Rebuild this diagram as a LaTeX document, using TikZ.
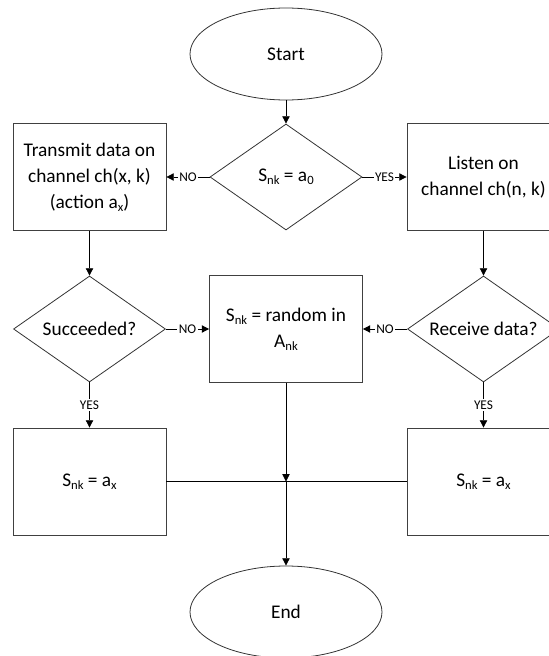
\documentclass[tikz,border=0pt]{standalone}
\usepackage{fontspec}
\setmainfont{Carlito}
\usetikzlibrary{shapes.geometric, arrows.meta}
\newcommand{\lsub}[1]{\raisebox{-0.3ex}{\fontsize{9.5}{9.5}\selectfont #1}}

\begin{document}
\begin{tikzpicture}[>={Triangle[length=5.5pt, width=5.5pt]}, x=0.75pt, y=-0.75pt, line width=0.6pt,
    font=\fontsize{14.5}{19.5}\selectfont,
    proc/.style={draw=black!75, minimum width=114.75pt, minimum height=80.25pt, align=center, inner sep=2pt},
    decide/.style={diamond, draw=black!80, aspect=1.44, minimum width=114pt, minimum height=79.5pt, inner sep=0pt, align=center},
    term/.style={ellipse, draw=black!80, minimum width=144pt, minimum height=69pt},
    lbl/.style={fill=white, inner sep=1pt, font=\fontsize{10}{10}\selectfont}]
  \useasboundingbox (0,0) rectangle (549,656);
  \clip (0,0) rectangle (549,656);
  % shapes
  \node[term] (start) at (286,54) {Start};
  \node[decide] (d0) at (286,177) {S\lsub{nk} = a\lsub{0}};
  \node[proc] (tx) at (89.5,177) {Transmit data on\\channel ch(x, k)\\(action a\lsub{x})};
  \node[proc] (rx) at (483.5,177) {Listen on\\channel ch(n, k)};
  \node[decide] (ok) at (89.5,329) {Succeeded?};
  \node[proc] (rnd) at (286,329) {S\lsub{nk} = random in\\A\lsub{nk}};
  \node[decide] (got) at (483.5,329) {Receive data?};
  \node[proc] (setl) at (89.5,481.5) {S\lsub{nk} = a\lsub{x}};
  \node[proc] (setr) at (483.5,481.5) {S\lsub{nk} = a\lsub{x}};
  \node[term] (end) at (286,612) {End};
  \coordinate (join) at (rnd.south |- setl.east);
  % connectors
  \draw[->] (start) -- (d0);
  \draw[->] (d0) -- node[lbl] {NO} (tx);
  \draw[->] (d0) -- node[lbl] {YES} (rx);
  \draw[->] (tx) -- (ok);
  \draw[->] (rx) -- (got);
  \draw[->] (ok) -- node[lbl] {NO} (rnd);
  \draw[->] (got) -- node[lbl] {NO} (rnd);
  \draw[->] (ok) -- node[lbl] {YES} (setl);
  \draw[->] (got) -- node[lbl] {YES} (setr);
  \draw (setl.east) -- (setr.west);
  \draw[->] (rnd) -- (join);
  \draw[->] (join) -- (end);
\end{tikzpicture}
\end{document}
